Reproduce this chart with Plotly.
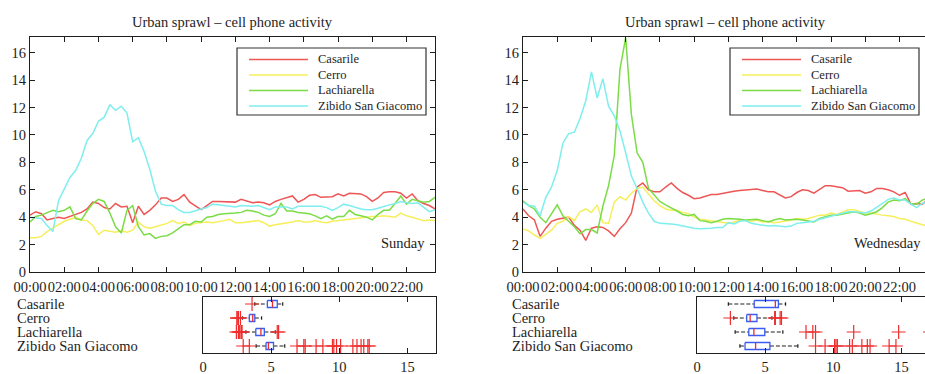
import numpy as np
import plotly.graph_objects as go

# ---------------------------------------------------------------------------
# Data: average cell phone activity per 20-minute slot (00:00 .. 23:40)
# ---------------------------------------------------------------------------
names = ["Casarile", "Cerro", "Lachiarella", "Zibido San Giacomo"]
colors = ["#ee5656", "#f6ef5c", "#7bdc46", "#7eeeee"]
days = ["Sunday", "Wednesday"]

hours = np.arange(72) / 3.0
tick_hours = list(range(0, 24, 2))
tick_text = ["%02d:00" % h for h in tick_hours]
value_ticks = [0, 2, 4, 6, 8, 10, 12, 14, 16]
box_ticks = [0, 5, 10, 15]

sun_casarile = [4.15, 4.4, 4.25, 3.8, 3.9, 4.0, 3.9, 4.05, 4.2, 4.35, 4.6, 5.1,
                5.0, 4.7, 4.6, 5.0, 4.75, 4.8, 3.6, 4.8, 4.2, 4.5, 4.9, 5.4,
                5.4, 5.15, 5.3, 5.65, 5.1, 4.8, 4.55, 4.85, 5.15, 5.15, 5.15, 5.1,
                5.1, 5.3, 5.15, 5.05, 5.1, 5.05, 4.9, 5.15, 5.3, 5.45, 5.55, 5.1,
                5.3, 5.6, 5.65, 5.45, 5.45, 5.5, 5.7, 5.55, 5.75, 5.7, 5.7, 5.5,
                5.15, 5.4, 5.8, 5.85, 5.85, 5.75, 5.4, 5.7, 5.2, 5.0, 4.85, 4.6]
sun_cerro = [2.5, 2.5, 2.6, 2.95, 3.2, 3.45, 3.7, 3.85, 4.0, 3.8, 3.75, 3.4,
             2.75, 3.05, 2.95, 2.9, 3.0, 2.9, 3.05, 3.65, 3.3, 3.2, 3.3, 3.4,
             3.55, 3.75, 3.55, 3.65, 3.4, 3.55, 3.6, 3.65, 3.6, 3.65, 3.75, 3.85,
             3.6, 3.6, 3.65, 3.7, 3.75, 3.6, 3.35, 3.45, 3.5, 3.55, 3.65, 3.75,
             3.65, 3.65, 3.75, 3.65, 3.6, 3.7, 3.75, 3.85, 3.9, 3.9, 3.95, 4.0,
             4.05, 4.05, 4.1, 4.05, 4.0, 4.3, 4.1, 4.0, 3.9, 3.75, 3.8, 3.75]
sun_lachiarella = [3.65, 4.05, 4.15, 4.3, 4.5, 4.4, 4.5, 4.75, 3.9, 3.8, 4.45, 5.0,
                   5.3, 5.15, 4.3, 3.3, 2.85, 4.5, 4.85, 3.3, 2.7, 2.8, 2.45, 2.6,
                   2.65, 2.85, 3.15, 3.45, 3.45, 3.7, 3.65, 4.0, 4.05, 4.2, 4.25, 4.25,
                   4.3, 4.35, 4.5, 4.45, 4.35, 4.15, 4.05, 4.25, 5.0, 4.45, 4.45, 4.35,
                   4.3, 4.25, 4.1, 3.9, 4.1, 3.85, 4.05, 4.05, 4.5, 4.2, 4.1, 4.0,
                   3.8, 4.2, 4.5, 4.5, 5.0, 5.55, 4.95, 5.3, 5.2, 5.1, 5.15, 5.45]
sun_zibido = [4.0, 3.95, 3.9, 3.4, 2.95, 5.2, 6.0, 6.9, 7.4, 8.3, 9.6, 10.1,
              11.0, 11.3, 12.2, 11.8, 12.1, 11.6, 9.5, 9.8, 8.8, 7.5, 5.9, 4.95,
              4.85, 4.85, 4.55, 4.35, 4.35, 4.5, 4.6, 4.7, 4.95, 4.9, 4.85, 4.8,
              4.75, 4.85, 4.8, 4.8, 4.85, 4.7, 4.55, 4.75, 4.75, 4.75, 4.6, 4.8,
              4.8, 4.8, 4.85, 4.8, 4.7, 4.5, 4.7, 4.95, 4.85, 4.7, 4.6, 4.55,
              4.55, 4.65, 4.8, 4.9, 5.0, 5.15, 5.05, 5.0, 5.05, 4.7, 4.4, 4.55]

wed_casarile = [4.6, 4.1, 3.8, 2.6, 3.2, 3.7, 3.85, 3.95, 4.0, 3.4, 3.05, 2.3,
                3.2, 3.3, 3.25, 3.0, 2.6, 3.15, 3.6, 4.3, 6.2, 6.5, 6.0, 5.85,
                5.85, 6.2, 6.5, 6.1, 5.8, 5.6, 5.35, 5.4, 5.5, 5.65, 5.65, 5.75,
                5.85, 5.9, 5.95, 6.0, 6.0, 6.05, 5.95, 5.85, 5.85, 5.6, 5.4, 5.5,
                5.8, 6.0, 5.95, 5.75, 6.05, 6.3, 6.3, 6.25, 6.15, 5.9, 5.95, 5.95,
                5.75, 5.85, 6.1, 6.1, 6.0, 5.85, 5.6, 5.8, 4.95, 5.0, 4.95, 5.3]
wed_cerro = [3.15, 3.0, 2.7, 2.45, 2.75, 3.05, 3.55, 3.7, 4.05, 3.75, 4.4, 4.6,
             4.35, 4.9, 3.6, 3.55, 5.1, 5.5, 5.25, 5.75, 6.1, 6.2, 5.7, 5.2,
             4.85, 4.6, 4.5, 4.5, 4.35, 4.25, 4.0, 3.85, 3.8, 3.75, 3.65, 3.6,
             3.55, 3.65, 3.8, 3.75, 3.7, 3.8, 3.65, 3.7, 3.6, 3.65, 3.7, 3.8,
             3.9, 3.85, 3.9, 4.05, 4.15, 4.15, 4.3, 4.2, 4.4, 4.55, 4.55, 4.4,
             4.3, 4.3, 4.2, 4.15, 4.1, 4.05, 3.9, 3.85, 3.7, 3.55, 3.45, 3.35]
wed_lachiarella = [5.2, 4.85, 4.6, 4.0, 3.6, 4.3, 4.9, 4.1, 3.7, 3.3, 2.8, 3.1,
                   3.1, 2.85, 4.8, 6.3, 8.5, 14.8, 17.1, 11.5, 8.7, 8.0, 6.1, 5.6,
                   5.15, 4.9, 4.7, 4.45, 4.2, 4.1, 4.2, 3.75, 3.7, 3.6, 3.7, 3.85,
                   3.9, 3.9, 3.85, 3.8, 3.8, 3.85, 3.75, 3.65, 3.8, 3.9, 3.8, 3.85,
                   3.85, 3.8, 3.75, 3.65, 3.9, 4.05, 4.15, 4.15, 4.25, 4.3, 4.4, 4.3,
                   4.15, 4.25, 4.4, 4.7, 5.1, 5.25, 5.2, 5.35, 5.0, 4.95, 5.25, 5.4]
wed_zibido = [5.1, 4.85, 4.8, 4.1, 5.45, 6.2, 7.4, 9.4, 10.1, 10.2, 11.2, 12.5,
              14.6, 12.7, 14.1, 12.1, 11.4, 10.3, 8.7, 7.0, 6.1, 5.1, 4.3, 3.7,
              3.55, 3.55, 3.5, 3.45, 3.35, 3.25, 3.2, 3.15, 3.15, 3.2, 3.25, 3.25,
              3.6, 3.5, 3.7, 3.75, 3.55, 3.5, 3.4, 3.35, 3.4, 3.35, 3.3, 3.35,
              3.55, 3.6, 3.65, 3.7, 3.85, 3.95, 4.05, 4.15, 4.25, 4.4, 4.4, 4.35,
              4.3, 4.45, 4.7, 5.0, 5.3, 5.4, 5.25, 5.25, 4.95, 4.7, 5.0, 5.1]

sunday = [sun_casarile, sun_cerro, sun_lachiarella, sun_zibido]
wednesday = [wed_casarile, wed_cerro, wed_lachiarella, wed_zibido]

# ---------------------------------------------------------------------------
# Page geometry (pixels) and helpers
# ---------------------------------------------------------------------------
W, H = 925, 374
FONT = "Liberation Serif, Times New Roman, DejaVu Serif, serif"
INK = "#1e1e1e"
BOX_BLUE = "#3a5cf2"
MED_RED = "#ee2c2c"


def px(x):
    return x / W


def py(y):
    return 1 - y / H


def box_stats(values):
    v = np.asarray(values, dtype=float)
    q1, med, q3 = np.percentile(v, [25, 50, 75], method="hazen")
    iqr = q3 - q1
    lo_lim, hi_lim = q1 - 1.5 * iqr, q3 + 1.5 * iqr
    inside = v[(v >= lo_lim) & (v <= hi_lim)]
    outliers = v[(v < lo_lim) | (v > hi_lim)]
    return q1, med, q3, inside.min(), inside.max(), outliers


fig = go.Figure()

panels = [
    dict(data=sunday, xl="x", yl="y", xb="x3", yb="y3"),
    dict(data=wednesday, xl="x2", yl="y2", xb="x4", yb="y4"),
]

for p in panels:
    # daily activity curves
    for name, col, vals in zip(names, colors, p["data"]):
        fig.add_trace(go.Scatter(
            x=hours, y=vals, mode="lines", name=name,
            line=dict(color=col, width=1.5),
            xaxis=p["xl"], yaxis=p["yl"], showlegend=False,
            hoverinfo="skip"))

    # horizontal box plots of the same curves
    half, cap = 0.25, 0.12
    bx, by, mx, my, wx, wy, cx, cy, ox, oy = ([] for _ in range(10))
    for i, vals in enumerate(p["data"], start=1):
        q1, med, q3, lo, hi, out = box_stats(vals)
        bx += [q1, q3, q3, q1, q1, None]
        by += [i - half, i - half, i + half, i + half, i - half, None]
        mx += [med, med, None]
        my += [i - half, i + half, None]
        wx += [lo, q1, None, q3, hi, None]
        wy += [i, i, None, i, i, None]
        cx += [lo, lo, None, hi, hi, None]
        cy += [i - cap, i + cap, None, i - cap, i + cap, None]
        ox += list(out)
        oy += [i] * len(out)
    common = dict(xaxis=p["xb"], yaxis=p["yb"], showlegend=False, hoverinfo="skip")
    fig.add_trace(go.Scatter(x=wx, y=wy, mode="lines",
                             line=dict(color=INK, width=1, dash="4px,2px"), **common))
    fig.add_trace(go.Scatter(x=cx, y=cy, mode="lines",
                             line=dict(color=INK, width=1.2), **common))
    fig.add_trace(go.Scatter(x=bx, y=by, mode="lines",
                             line=dict(color=BOX_BLUE, width=1.3), **common))
    fig.add_trace(go.Scatter(x=mx, y=my, mode="lines",
                             line=dict(color=MED_RED, width=1.3), **common))
    fig.add_trace(go.Scatter(x=ox, y=oy, mode="markers",
                             marker=dict(symbol="cross-thin", size=10,
                                         line=dict(color=MED_RED, width=1.2)),
                             **common))

# ---------------------------------------------------------------------------
# Axes
# ---------------------------------------------------------------------------
tickfont = dict(family=FONT, size=14.5, color=INK)
base = dict(showline=True, linecolor=INK, linewidth=1.2, ticks="inside",
            ticklen=5, tickcolor=INK, tickwidth=1, showgrid=False,
            zeroline=False, tickfont=tickfont, fixedrange=True, automargin=False)

px_per_hour = (435 - 30) / hours[-1]
line_ydom = [py(272), py(37)]
box_ydom = [py(353), py(297)]
px_per_val = (436 - 203) / 17.1

fig.update_layout(
    xaxis=dict(base, domain=[px(30), px(435)], range=[0, hours[-1]], tickangle=0,
               ticklabelstandoff=1, tickvals=tick_hours, ticktext=tick_text,
               mirror="ticks", anchor="y"),
    yaxis=dict(base, domain=line_ydom, range=[0, 17.15], tickvals=value_ticks,
               ticklabelstandoff=0, mirror="ticks", anchor="x"),
    xaxis2=dict(base, domain=[px(523), 1], range=[0, (W - 523) / px_per_hour],
                tickangle=0, ticklabelstandoff=1, tickvals=tick_hours,
                ticktext=tick_text, mirror="ticks", anchor="y2"),
    yaxis2=dict(base, domain=line_ydom, range=[0, 17.15], tickvals=value_ticks,
                ticklabelstandoff=0, mirror=False, anchor="x2"),
    xaxis3=dict(base, domain=[px(203), px(436)], range=[0, 17.1], tickangle=0,
                ticklabelstandoff=0, tickvals=box_ticks, mirror="ticks", anchor="y3"),
    yaxis3=dict(base, domain=box_ydom, range=[4.5, 0.5], ticks="",
                showticklabels=False, mirror=True, anchor="x3"),
    xaxis4=dict(base, domain=[px(697), 1], range=[0, (W - 697) / px_per_val],
                tickangle=0, ticklabelstandoff=0, tickvals=box_ticks,
                mirror="ticks", anchor="y4"),
    yaxis4=dict(base, domain=box_ydom, range=[4.5, 0.5], ticks="",
                showticklabels=False, mirror=False, anchor="x4"),
)

# ---------------------------------------------------------------------------
# Titles, day labels, box-plot row labels and legends
# ---------------------------------------------------------------------------
annotations = []
shapes = []
txt = dict(family=FONT, size=14.5, color=INK)

for shift, day, yb in [(0, days[0], "y3"), (493, days[1], "y4")]:
    annotations.append(dict(text="Urban sprawl \u2013 cell phone activity",
                            x=px(232.5 + shift), y=py(22), xref="paper", yref="paper",
                            showarrow=False, xanchor="center", yanchor="middle", font=txt))
    annotations.append(dict(text=day, x=px(427 + shift + (3 if shift else 0)),
                            y=py(243), xref="paper", yref="paper", showarrow=False,
                            xanchor="right", yanchor="middle", font=txt))
    for i, name in enumerate(names, start=1):
        annotations.append(dict(text=name, x=px(15 + shift + (2 if shift else 0)), y=i,
                                xref="paper", yref=yb, showarrow=False,
                                xanchor="left", yanchor="middle", font=txt))
    # legend frame
    shapes.append(dict(type="rect", xref="paper", yref="paper",
                       x0=px(237 + shift), x1=px(426 + shift), y0=py(115), y1=py(48),
                       line=dict(color="#333", width=1.2), fillcolor="white", layer="above"))
    for k, (name, col) in enumerate(zip(names, colors)):
        yrow = 59.5 + k * 15.5
        shapes.append(dict(type="line", xref="paper", yref="paper",
                           x0=px(249 + shift), x1=px(308 + shift), y0=py(yrow), y1=py(yrow),
                           line=dict(color=col, width=1.5), layer="above"))
        annotations.append(dict(text=name, x=px(316 + shift), y=py(yrow),
                                xref="paper", yref="paper", showarrow=False,
                                xanchor="left", yanchor="middle",
                                font=dict(family=FONT, size=12.5, color=INK)))

fig.update_layout(
    template="none",
    width=W, height=H,
    margin=dict(l=0, r=0, t=0, b=0, pad=0),
    paper_bgcolor="white", plot_bgcolor="white",
    showlegend=False,
    annotations=annotations,
    shapes=shapes,
)

fig.write_html("out.html")
